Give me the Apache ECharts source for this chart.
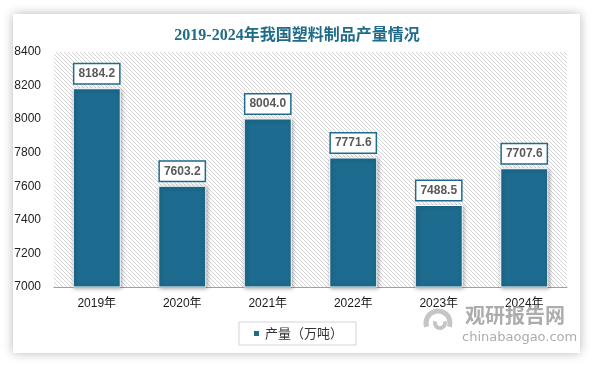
<!DOCTYPE html>
<html>
<head>
<meta charset="utf-8">
<script src="https://cdn.jsdelivr.net/npm/echarts@6/dist/echarts.min.js"></script>
<style>html,body{margin:0;padding:0;background:#fff;}#c{width:594px;height:366px;}</style>
</head>
<body>
<div id="c"></div>
<script>
var categories = ['2019年', '2020年', '2021年', '2022年', '2023年', '2024年'];
var production = [8184.2, 7603.2, 8004.0, 7771.6, 7488.5, 7707.6];
var yTicks = [7000, 7200, 7400, 7600, 7800, 8000, 8200, 8400];
var seriesName = '产量（万吨）';
var titleText = '2019-2024年我国塑料制品产量情况';

// diagonal hatch pattern
var tile = document.createElement('canvas');
tile.width = 4; tile.height = 4;
var tctx = tile.getContext('2d');
var img = tctx.createImageData(4, 4);
for (var y = 0; y < 4; y++) {
  for (var x = 0; x < 4; x++) {
    var i = (y * 4 + x) * 4;
    var on = ((x - y + 8) % 4) === 0;
    var v = on ? 212 : 255;
    img.data[i] = v; img.data[i + 1] = v; img.data[i + 2] = v; img.data[i + 3] = 255;
  }
}
tctx.putImageData(img, 0, 0);

var chart = echarts.init(document.getElementById('c'), null, { renderer: 'canvas' });
var teal = '#1d6b8e';
chart.setOption({
  animation: false,
  backgroundColor: '#fff',
  title: {
    text: titleText,
    left: 'center',
    top: 23,
    textStyle: { fontFamily: 'Liberation Serif, Noto Sans CJK SC', fontWeight: 'bold', fontSize: 16, color: '#1f6b8a' }
  },
  graphic: [
    { type: 'rect', z: -10, shape: { x: 13, y: 14, width: 567, height: 339 },
      style: { fill: '#fff', shadowBlur: 10, shadowColor: 'rgba(0,0,0,0.28)', shadowOffsetX: 0, shadowOffsetY: 0 } },
    { type: 'arc', z: 5, shape: { cx: 438, cy: 323, r: 12, startAngle: Math.PI * 0.9, endAngle: Math.PI * 2.1 },
      style: { stroke: 'rgba(150,150,150,0.55)', lineWidth: 5, fill: null } },
    { type: 'arc', z: 5, shape: { cx: 440, cy: 323, r: 5, startAngle: Math.PI * 1.9, endAngle: Math.PI * 3.1 },
      style: { stroke: 'rgba(150,150,150,0.55)', lineWidth: 4, fill: null } },
    { type: 'text', z: 5, left: 465, top: 305,
      style: { text: '观研报告网', fill: 'rgba(128,128,128,0.65)', font: 'bold 20px "Noto Sans CJK SC"' } },
    { type: 'text', z: 5, left: 462, top: 331,
      style: { text: 'chinabaogao.com', fill: 'rgba(128,128,128,0.65)', font: '13px "DejaVu Sans"' } }
  ],
  grid: {
    left: 54, right: 27, top: 52, bottom: 79,
    show: true, borderWidth: 0,
    backgroundColor: { image: tile, repeat: 'repeat' }
  },
  legend: {
    data: [seriesName],
    left: 239, top: 322,
    padding: [5, 13, 5, 13],
    borderColor: '#d4d4d4', borderWidth: 1,
    itemWidth: 7, itemHeight: 7, itemGap: 4,
    icon: 'rect',
    textStyle: { fontSize: 13, color: '#333', fontFamily: 'Noto Sans CJK SC' }
  },
  xAxis: {
    type: 'category',
    data: categories,
    axisLine: { lineStyle: { color: '#a0a0a0', width: 1 } },
    axisTick: { show: false },
    axisLabel: { fontSize: 12, color: '#1a1a1a', margin: 11, fontFamily: 'Liberation Sans, Noto Sans CJK SC' }
  },
  yAxis: {
    type: 'value',
    min: yTicks[0], max: yTicks[yTicks.length - 1], interval: 200,
    axisLine: { show: false },
    axisTick: { show: false },
    splitLine: { show: false },
    axisLabel: { fontSize: 12, color: '#222', margin: 13, fontFamily: 'Liberation Sans',
      formatter: function (v) { return String(v); } }
  },
  series: [{
    name: seriesName,
    type: 'bar',
    data: production,
    barWidth: 48,
    itemStyle: {
      color: teal, borderColor: '#fff', borderWidth: 1,
      shadowBlur: 4, shadowColor: 'rgba(0,0,0,0.35)', shadowOffsetX: 1, shadowOffsetY: 1
    },
    label: {
      show: true, position: 'top', distance: 5,
      formatter: function (p) { return p.value.toFixed(1); },
      backgroundColor: '#fff', borderColor: teal, borderWidth: 1.5,
      padding: [3, 4, 3, 4], lineHeight: 13,
      fontFamily: 'Liberation Sans', fontWeight: 'bold', fontSize: 12, color: '#595959'
    }
  }]
});
</script>
</body>
</html>
